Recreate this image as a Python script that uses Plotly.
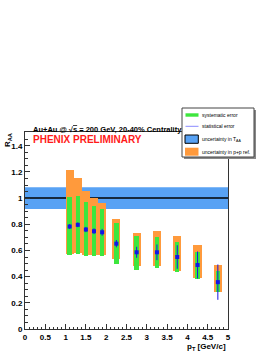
import plotly.graph_objects as go

# ---------------- data ----------------
pt = [1.1, 1.3, 1.5, 1.7, 1.9, 2.25, 2.75, 3.25, 3.75, 4.25, 4.75]
raa = [0.783, 0.796, 0.760, 0.747, 0.739, 0.652, 0.586, 0.586, 0.550, 0.489, 0.358]
stat_err = [0.018, 0.018, 0.020, 0.022, 0.026, 0.028, 0.042, 0.060, 0.090, 0.103, 0.135]
sys_top = [1.008, 1.013, 0.969, 0.941, 0.918, 0.811, 0.708, 0.706, 0.663, 0.588, 0.440]
sys_bot = [0.562, 0.576, 0.555, 0.555, 0.555, 0.496, 0.447, 0.463, 0.432, 0.381, 0.279]
pp_top = [1.218, 1.154, 1.054, 0.998, 0.962, 0.837, 0.737, 0.747, 0.714, 0.645, 0.491]
pp_bot = [0.570, 0.581, 0.568, 0.568, 0.568, 0.537, 0.478, 0.478, 0.440, 0.389, 0.282]
taa_unc = 0.083
x_ticks = [0, 0.5, 1, 1.5, 2, 2.5, 3, 3.5, 4, 4.5, 5]
y_ticks = [0, 0.2, 0.4, 0.6, 0.8, 1.0, 1.2, 1.4]

GREEN = "#3de63d"
ORANGE = "#ff9a3c"
BLUE_BAND = "#58a2f4"
PT_BLUE = "#1515e6"
FONT = "Liberation Sans"

fig = go.Figure()

fig.add_trace(go.Bar(
    x=pt, y=[t - b for t, b in zip(pp_top, pp_bot)], base=pp_bot, width=0.2,
    marker=dict(color=ORANGE, line=dict(width=0)), showlegend=False))
fig.add_trace(go.Bar(
    x=pt, y=[t - b for t, b in zip(sys_top, sys_bot)], base=sys_bot, width=0.11,
    marker=dict(color=GREEN, line=dict(width=0)), showlegend=False))
fig.add_trace(go.Scatter(
    x=pt, y=raa, mode="markers",
    marker=dict(symbol="square", size=4, color=PT_BLUE),
    error_y=dict(type="data", array=stat_err, color=PT_BLUE, thickness=1, width=0),
    showlegend=False))

# T_AA band and unity line (below traces)
fig.add_shape(type="rect", xref="x", yref="y", x0=0, x1=5, y0=1 - taa_unc, y1=1 + taa_unc,
              fillcolor=BLUE_BAND, line=dict(width=0), layer="below")
fig.add_shape(type="line", xref="x", yref="y", x0=0, x1=5, y0=1, y1=1,
              line=dict(color="black", width=1.5), layer="below")

fig.update_layout(
    width=274, height=355,
    margin=dict(l=25, r=46, t=132, b=26),
    paper_bgcolor="white", plot_bgcolor="white",
    barmode="overlay", bargap=0,
    font=dict(family=FONT, size=8, color="black"),
    showlegend=False,
)
fig.update_xaxes(
    range=[0, 5], tickvals=x_ticks, ticktext=[f"<b>{v:g}</b>" for v in x_ticks],
    ticks="inside", ticklen=5, tickwidth=1, tickcolor="#333",
    minor=dict(dtick=0.1, ticks="inside", ticklen=2.5, tickcolor="#333"),
    showline=True, linecolor="#333", linewidth=1, mirror=True,
    showgrid=False, zeroline=False, automargin=False,
    tickfont=dict(family=FONT, size=8, color="black"),
)
fig.update_yaxes(
    range=[0, 1.505], tickvals=y_ticks, ticktext=[f"<b>{v:g}</b>" for v in y_ticks],
    ticks="inside", ticklen=5, tickwidth=1, tickcolor="#333",
    minor=dict(dtick=0.05, ticks="inside", ticklen=2.5, tickcolor="#333"),
    showline=True, linecolor="#333", linewidth=1, mirror=True,
    showgrid=False, zeroline=False, automargin=False,
    tickfont=dict(family=FONT, size=8, color="black"),
)

# Legend box (manual) in pixel -> paper coords
def px(x):
    return (x - 25) / 203.0

def py(y):
    return (329 - y) / 197.0

# shadow
fig.add_shape(type="rect", xref="paper", yref="paper", x0=px(184), x1=px(256), y0=py(159), y1=py(110),
              fillcolor="#888", line=dict(width=0))
fig.add_shape(type="rect", xref="paper", yref="paper", x0=px(182), x1=px(254), y0=py(157), y1=py(108),
              fillcolor="white", line=dict(color="#444", width=1))
# entries
fig.add_shape(type="rect", xref="paper", yref="paper", x0=px(185.5), x1=px(198.5), y0=py(116.7), y1=py(113.3),
              fillcolor=GREEN, line=dict(width=0))
fig.add_shape(type="line", xref="paper", yref="paper", x0=px(185.5), x1=px(198.5), y0=py(126.3), y1=py(126.3),
              line=dict(color="#8a8aff", width=1))
fig.add_shape(type="rect", xref="paper", yref="paper", x0=px(185), x1=px(198.3), y0=py(143.3), y1=py(135),
              fillcolor=BLUE_BAND, line=dict(color="black", width=1))
fig.add_shape(type="rect", xref="paper", yref="paper", x0=px(185), x1=px(198.5), y0=py(155.7), y1=py(147.7),
              fillcolor=ORANGE, line=dict(width=0))
leg_texts = [("systematic error", 115), ("statistical error", 126.3),
             ("uncertainty in T<sub>AA</sub>", 139), ("uncertainty in p+p ref.", 152)]
for txt, yy in leg_texts:
    fig.add_annotation(text=txt, xref="paper", yref="paper", x=px(200), y=py(yy),
                       xanchor="left", yanchor="middle", showarrow=False,
                       font=dict(family=FONT, size=5, color="black"))

# Titles
fig.add_annotation(text="<b>Au+Au @ √<span style='text-decoration:overline'>s</span> = 200 GeV, 20-40% Centrality</b>",
                   xref="paper", yref="paper", x=px(31), y=py(129.5), xanchor="left", yanchor="middle",
                   showarrow=False, font=dict(family=FONT, size=7.5, color="black"))
fig.add_annotation(text="<b>PHENIX PRELIMINARY</b>", xref="paper", yref="paper", x=px(31), y=py(139.5),
                   xanchor="left", yanchor="middle", showarrow=False,
                   font=dict(family=FONT, size=10, color="#ff1a1a"))
fig.add_annotation(text="<b>R<sub>AA</sub></b>", xref="paper", yref="paper", x=px(8), y=py(131),
                   xanchor="center", yanchor="top", textangle=-90, showarrow=False,
                   font=dict(family=FONT, size=8, color="black"))
fig.add_annotation(text="<b>p<sub>T</sub> [GeV/c]</b>", xref="paper", yref="paper", x=1.0, y=py(347),
                   xanchor="right", yanchor="middle", showarrow=False,
                   font=dict(family=FONT, size=8, color="black"))

fig.write_html("out.html", config={"displayModeBar": False},
               post_script="document.body.style.margin='0';document.body.style.overflow='hidden';")
